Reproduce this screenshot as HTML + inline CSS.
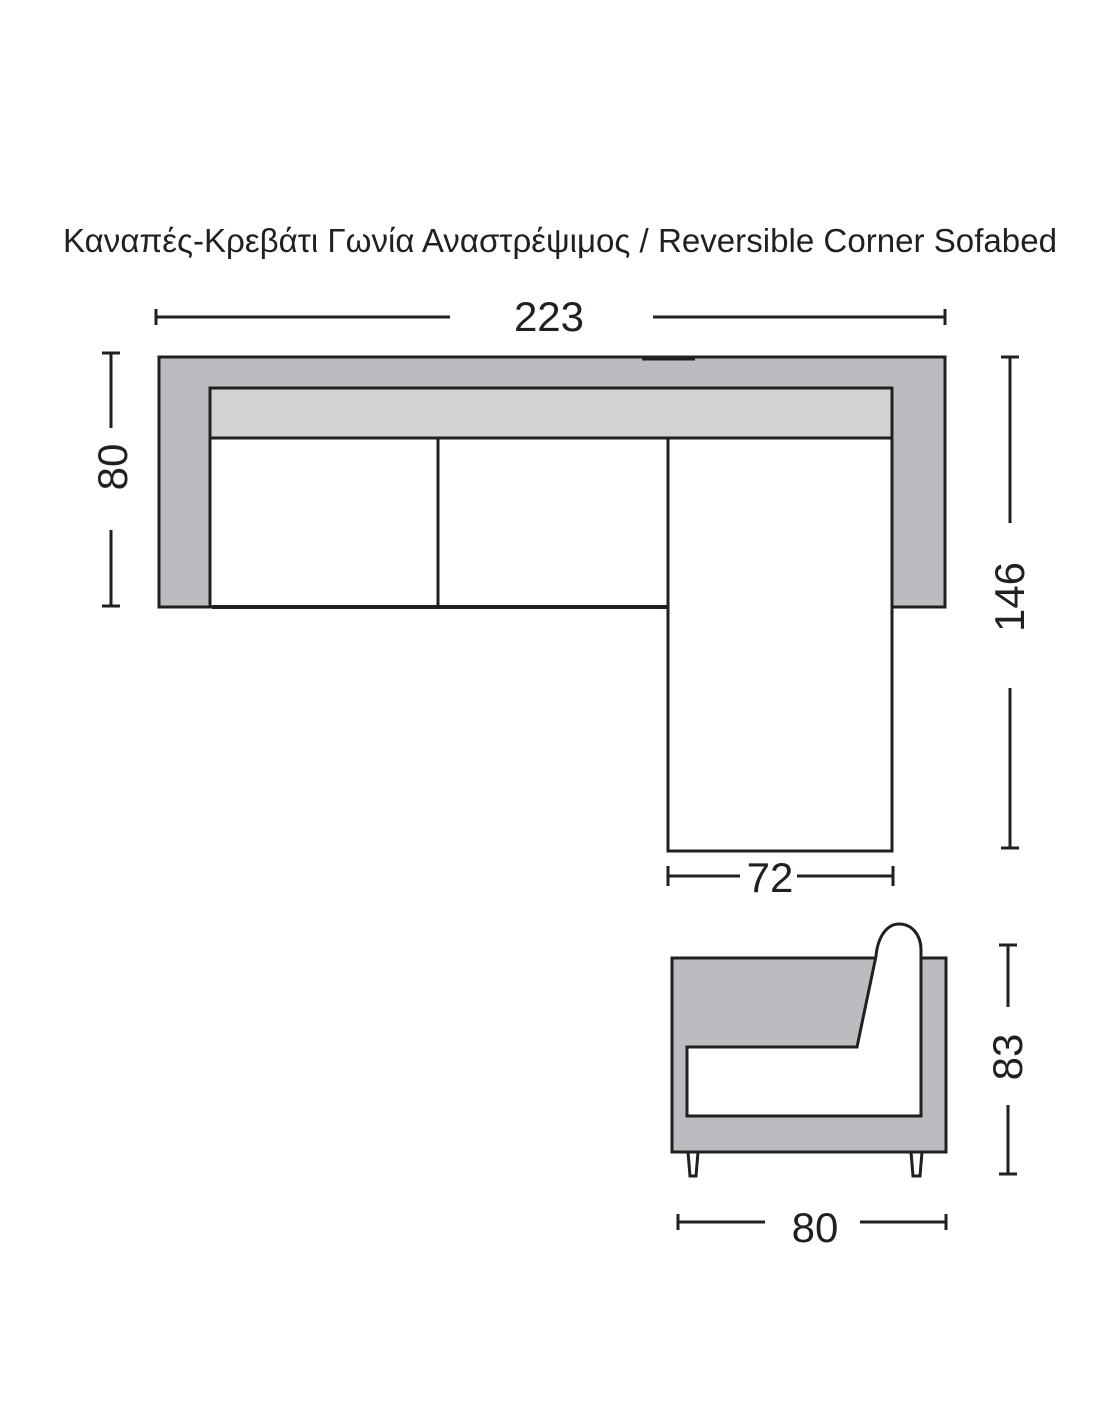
<!DOCTYPE html>
<html><head><meta charset="utf-8"><style>html,body{margin:0;padding:0;background:#fff}svg{display:block}</style></head>
<body>
<svg width="1100" height="1422" viewBox="0 0 1100 1422" xmlns="http://www.w3.org/2000/svg" font-family="Liberation Sans, DejaVu Sans, sans-serif" fill="#231f20">
<text x="63" y="252" font-size="33" textLength="994" lengthAdjust="spacingAndGlyphs">Καναπές-Κρεβάτι Γωνία Αναστρέψιμος / Reversible Corner Sofabed</text>
<g stroke="#231f20" stroke-width="3" fill="none">
<line x1="156" y1="317" x2="450" y2="317"/><line x1="653" y1="317" x2="945" y2="317"/>
<line x1="156" y1="309" x2="156" y2="325"/><line x1="945" y1="309" x2="945" y2="325"/>
<line x1="111" y1="353" x2="111" y2="428"/><line x1="111" y1="530" x2="111" y2="606"/>
<line x1="102" y1="353" x2="120" y2="353"/><line x1="102" y1="606" x2="120" y2="606"/>
<line x1="1010" y1="357" x2="1010" y2="523"/><line x1="1010" y1="688" x2="1010" y2="848"/>
<line x1="1001" y1="357" x2="1019" y2="357"/><line x1="1001" y1="848" x2="1019" y2="848"/>
<line x1="668" y1="876" x2="740" y2="876"/><line x1="797" y1="876" x2="893" y2="876"/>
<line x1="668" y1="866" x2="668" y2="886"/><line x1="893" y1="866" x2="893" y2="886"/>
<line x1="1008" y1="945" x2="1008" y2="1007"/><line x1="1008" y1="1105" x2="1008" y2="1174"/>
<line x1="999" y1="945" x2="1017" y2="945"/><line x1="999" y1="1174" x2="1017" y2="1174"/>
<line x1="678" y1="1222" x2="765" y2="1222"/><line x1="860" y1="1222" x2="946" y2="1222"/>
<line x1="678" y1="1214" x2="678" y2="1230"/><line x1="946" y1="1214" x2="946" y2="1230"/>
</g>
<g font-size="42" text-anchor="middle">
<text x="549" y="331">223</text>
<text x="770" y="892">72</text>
<text x="815" y="1242">80</text>
<text transform="translate(127,467) rotate(-90)">80</text>
<text transform="translate(1024,597) rotate(-90)">146</text>
<text transform="translate(1022,1057) rotate(-90)">83</text>
</g>
<g stroke="#231f20" stroke-width="3">
<rect x="159" y="357" width="786" height="250" fill="#bbbcc0"/>
<rect x="210" y="438" width="458" height="169" fill="#fff"/>
<rect x="668" y="438" width="224" height="413" fill="#fff"/>
<rect x="210" y="388" width="682" height="50" fill="#d1d2d4"/>
<line x1="438" y1="438" x2="438" y2="607"/>
<line x1="212" y1="607" x2="668" y2="607" stroke-width="4"/>
<line x1="642" y1="358" x2="695" y2="358" stroke-width="5"/>
</g>
<g stroke="#231f20" stroke-width="3">
<path d="M688 1152 L698 1152 L696 1176 L690 1176 Z" fill="#fff"/>
<path d="M911 1152 L922 1152 L920 1176 L913 1176 Z" fill="#fff"/>
<rect x="672" y="958" width="274" height="194" fill="#bbbcc0"/>
<path d="M687 1047 L857 1047 L876 956 C878 935 888 924 899 924 C912 924 921 935 921 950 L921 1116 L687 1116 Z" fill="#fff"/>
</g>
</svg>
</body></html>
